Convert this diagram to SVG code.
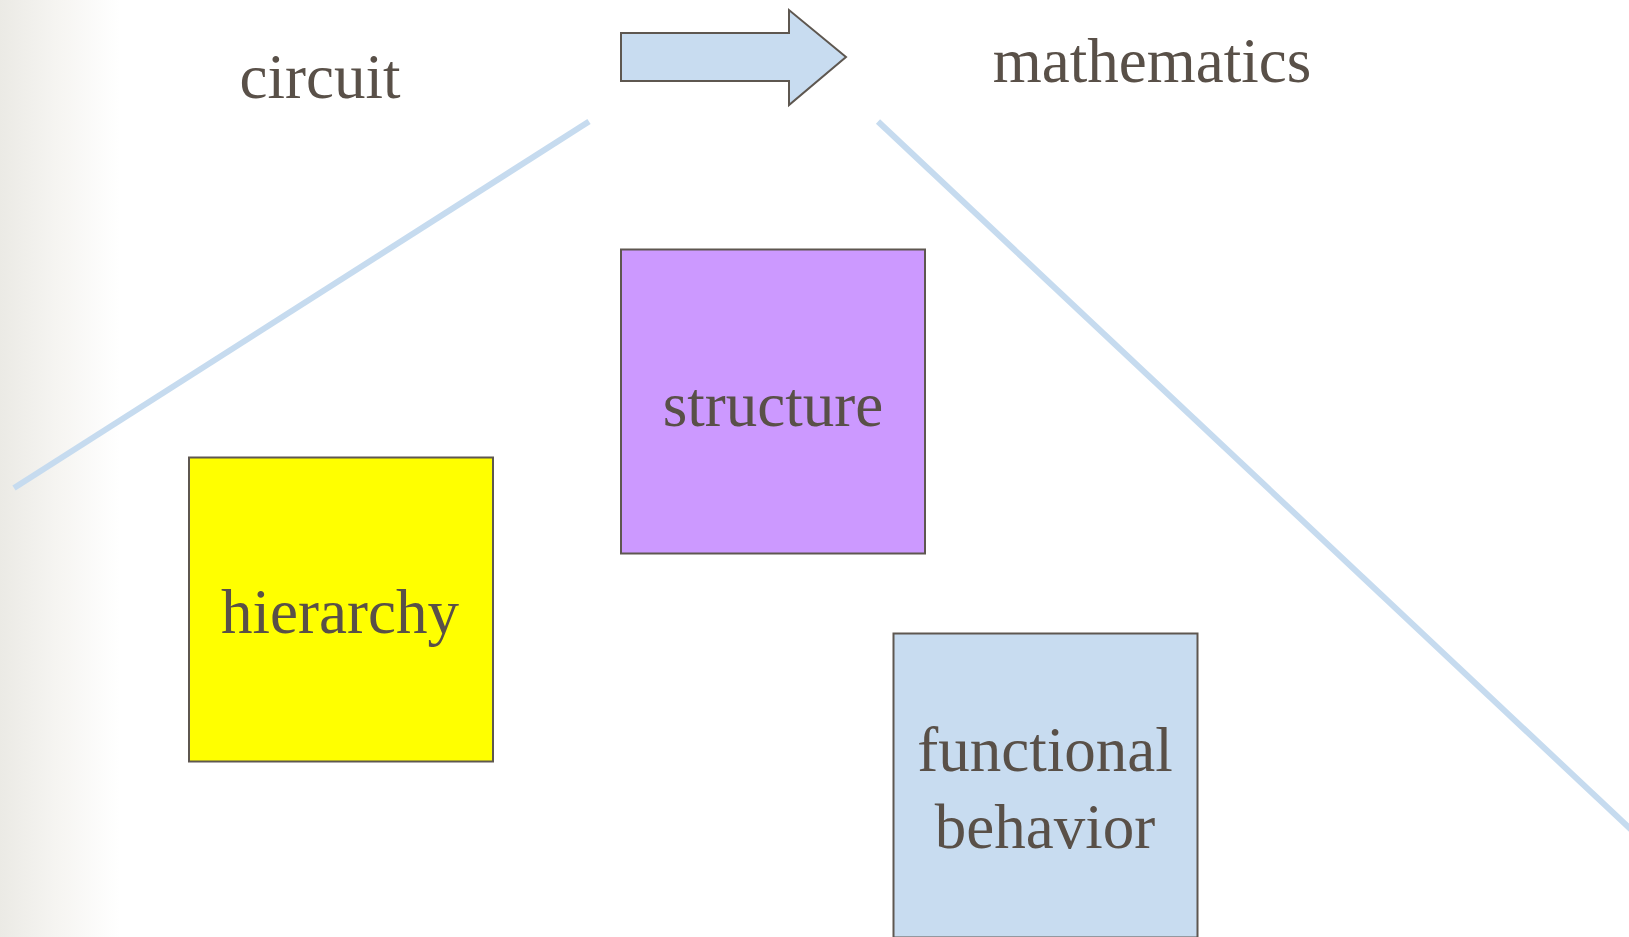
<svg xmlns="http://www.w3.org/2000/svg" width="1629" height="937" viewBox="0 0 1629 937">
  <defs>
    <linearGradient id="edgeShade" x1="0" y1="0" x2="1" y2="0">
      <stop offset="0" stop-color="#ebeae5"/>
      <stop offset="0.5" stop-color="#f6f5f2"/>
      <stop offset="1" stop-color="#ffffff"/>
    </linearGradient>
  </defs>
  <style>
    .label { font-family: "Liberation Serif", "Times New Roman", serif; font-size: 63px; fill: #595048; text-anchor: middle; }
    .box { stroke: #5e5750; stroke-width: 2; }
    .guide { stroke: #c6dbef; stroke-width: 6; fill: none; }
  </style>

  <!-- background -->
  <rect x="0" y="0" width="1629" height="937" fill="#ffffff"/>
  <rect x="0" y="0" width="120" height="937" fill="url(#edgeShade)"/>

  <!-- connectors -->
  <g id="connectors">
    <line class="guide" x1="14" y1="488" x2="589" y2="121.5"/>
    <line class="guide" x1="878" y1="121.5" x2="1640" y2="838"/>
    <path id="arrow" d="M621,33 H789 V10 L846,57 L789,105 V81 H621 Z" fill="#c8dcf0" stroke="#5e5750" stroke-width="2"/>
  </g>

  <!-- titles -->
  <g id="circuit">
    <text class="label" x="320" y="98">circuit</text>
  </g>
  <g id="mathematics">
    <text class="label" x="1152" y="82">mathematics</text>
  </g>

  <!-- nodes -->
  <g id="structure">
    <rect class="box" x="621" y="249.5" width="304" height="304" fill="#cc99ff"/>
    <text class="label" x="773" y="426">structure</text>
  </g>
  <g id="hierarchy">
    <rect class="box" x="189" y="457.5" width="304" height="304" fill="#ffff00"/>
    <text class="label" x="340" y="633">hierarchy</text>
  </g>
  <g id="functional-behavior">
    <rect class="box" x="893.5" y="633.5" width="304" height="304" fill="#c8dcf0"/>
    <text class="label" x="1045" y="771">functional</text>
    <text class="label" x="1045" y="848">behavior</text>
  </g>
</svg>
